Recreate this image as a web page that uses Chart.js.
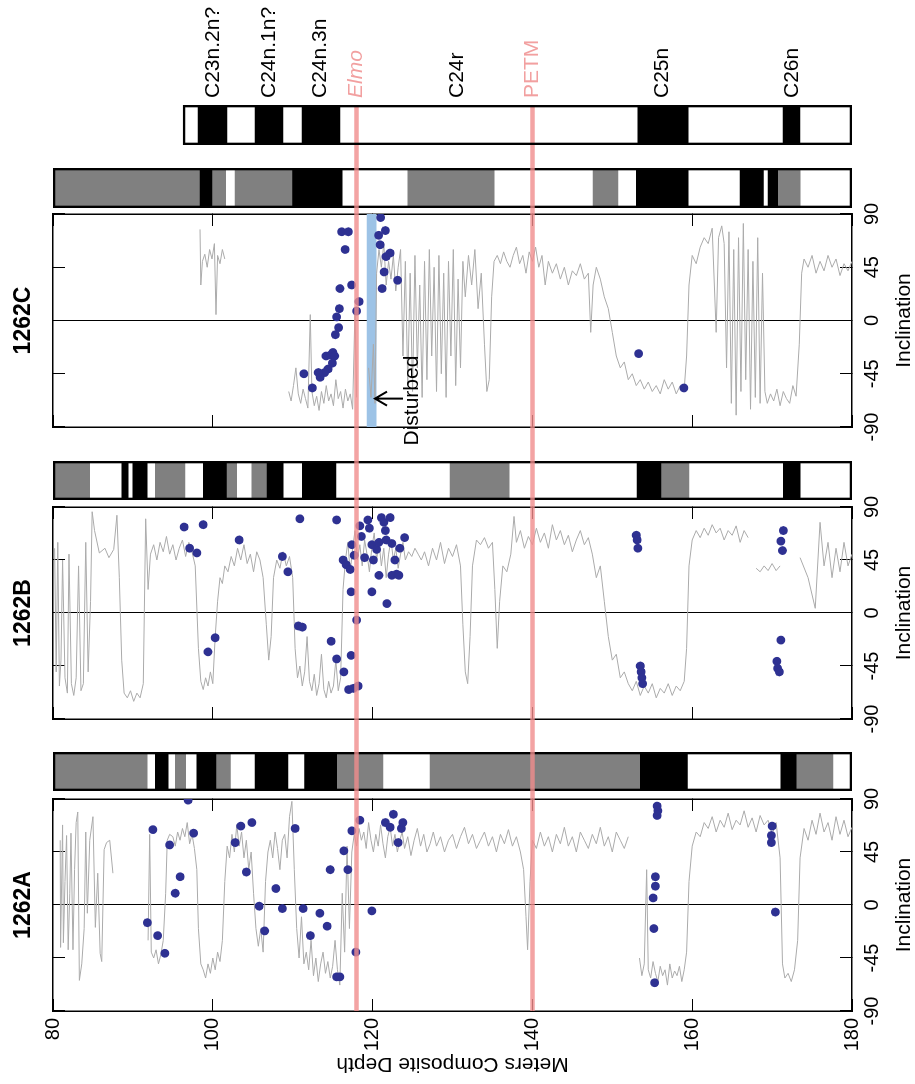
<!DOCTYPE html>
<html>
<head>
<meta charset="utf-8">
<script src="https://cdn.jsdelivr.net/npm/chart.js@4.4.1/dist/chart.umd.min.js"></script>
<style>
  html, body { margin: 0; padding: 0; background: #fff; overflow: hidden; }
  /* the figure is laid out lying on its side, then turned a quarter turn */
  #stage { position: absolute; left: 0; top: 0; width: 1084px; height: 915px;
           transform-origin: 0 0; transform: translate(0, 1084px) rotate(-90deg); }
  #stage canvas { position: absolute; left: 0; top: 0; }
</style>
</head>
<body>
<div id="stage"></div>
<script>
// ---- data (depth in mcd, inclination in degrees) ----
const depthTicks = [80, 100, 120, 140, 160, 180];
const incTicks = [-90, -45, 0, 45, 90];

const markerNames = ['Elmo', 'PETM'];
const markerDepths = [118.0, 140.0];

const chronNames = ['C23n.2n?', 'C24n.1n?', 'C24n.3n', 'C24r', 'C25n', 'C26n'];
const chronDepths = [100.0, 107.1, 113.4, 130.6, 156.3, 172.5];

const compositeRange = [96.27, 180];
const compositeBlack = [[98.15, 101.78], [105.28, 108.79], [111.16, 115.92], [153.2, 159.48], [171.37, 173.49]];

const polBlackA = [[92.8, 94.4], [98.0, 100.4], [105.3, 109.4], [111.5, 115.5], [153.5, 159.4], [171.1, 173.0]];
const polGreyA = [[80, 91.8], [95.3, 96.6], [100.4, 102.2], [115.5, 121.3], [127.2, 153.5], [173.0, 177.6]];
const polBlackB = [[88.6, 89.4], [90.0, 91.8], [98.8, 101.7], [106.8, 108.8], [111.2, 115.4], [153.1, 156.1], [171.4, 173.5]];
const polGreyB = [[80, 84.6], [92.8, 96.5], [101.7, 103.0], [104.9, 106.8], [129.7, 137.1], [156.1, 159.6]];
const polBlackC = [[98.4, 99.9], [110.0, 116.2], [153.0, 159.5], [166.0, 168.9], [169.5, 170.7]];
const polGreyC = [[80, 98.4], [99.9, 101.6], [102.8, 110.0], [124.4, 135.2], [147.6, 150.7], [170.7, 173.5]];

const disturbedRange = [119.26, 120.5];
const disturbedArrow = { inc: -66, head: 120.3, tail: 123.8, labelDepth: 123.6 };

// continuous inclination records, one array per unbroken run: [depth, inclination]
const greyA = [
  [[80.9,55],[80.95,-36],[81.2,68],[81.3,-32],[81.5,20],[81.7,59],[81.9,-38],[82.1,10],[82.25,61],[82.5,-38],[82.7,30],[82.9,70],[83.1,79],[83.3,-64],[83.6,-50],[83.9,-20],[84.1,62],[84.3,-7],[84.6,55],[85.0,75],[85.3,-19],[85.6,27],[85.9,-41],[86.1,-48],[86.4,47],[86.7,53],[87.1,55],[87.5,27]],
  [[91.9,-30],[92.1,60],[92.3,-40],[92.6,-45],[92.9,-38],[93.2,-50],[93.5,-42],[93.8,-30],[94.1,10],[94.3,55],[94.6,60],[95.0,58],[95.3,50],[95.6,62],[95.9,55],[96.2,65],[96.5,58],[96.8,70],[97.1,52],[97.4,60],[97.7,48],[98.0,30],[98.2,-20],[98.5,-50],[98.8,-55],[99.1,-62],[99.4,-50],[99.7,-58],[100.0,-45],[100.3,-55],[100.6,-40],[100.9,-48],[101.2,-30],[101.5,20],[101.8,50],[102.1,40],[102.4,60],[102.7,45],[103.0,68],[103.3,50],[103.6,62],[103.9,40],[104.2,55],[104.5,30],[104.8,45],[105.1,10],[105.4,-20],[105.7,-35],[106.0,-20],[106.3,-40],[106.6,20],[106.9,45],[107.2,55],[107.5,40],[107.8,62],[108.1,48],[108.4,30],[108.7,55],[109.0,60],[109.3,40],[109.6,75],[109.9,88],[110.2,30],[110.5,-20],[110.8,-45],[111.1,-10],[111.4,-50],[111.7,-40],[112.0,-55],[112.3,-30],[112.6,-60],[112.9,-45],[113.2,-65],[113.5,-50],[113.8,-40],[114.1,-58],[114.4,-48],[114.7,-62],[115.0,-52],[115.3,-30],[115.6,-55],[115.9,-68],[116.2,10],[116.5,-40],[116.8,50],[117.1,-20],[117.4,45],[117.7,60],[118.0,50],[118.3,65],[118.6,55],[118.9,62],[119.2,48],[119.5,70],[119.8,55],[120.1,45],[120.4,60],[120.7,50],[121.0,68],[121.3,52],[121.6,40],[121.9,58],[122.2,66],[122.5,50],[122.8,60],[123.1,45],[123.4,55],[123.7,62],[124.0,48],[124.4,58],[124.8,42],[125.2,55],[125.6,65],[126.0,50],[126.4,60],[126.8,45],[127.2,52],[127.6,62],[128.0,50],[128.5,58],[129.0,45],[129.5,55],[130.0,60],[130.5,48],[131.0,58],[131.5,66],[132.0,52],[132.5,60],[133.0,48],[133.5,55],[134.0,62],[134.5,50],[135.0,58],[135.5,45],[136.0,60],[136.5,52],[137.0,64],[137.5,50],[138.0,58],[138.5,45],[138.9,30],[139.2,-10],[139.4,-38],[139.7,20],[140.0,55],[140.5,48],[141.0,62],[141.5,50],[142.0,58],[142.5,45],[143.0,60],[143.5,52],[144.0,66],[144.5,50],[145.0,58],[145.5,45],[146.0,62],[146.5,55],[147.0,48],[147.5,60],[148.0,52],[148.5,66],[149.0,50],[149.5,58],[150.0,45],[150.5,62],[151.0,55],[151.5,48],[152.0,58]],
  [[153.4,-45],[153.7,-60],[154.0,-50],[154.3,30],[154.5,-55],[154.8,-62],[155.1,-48],[155.4,-58],[155.7,-65],[156.0,-52],[156.3,-60],[156.6,-55],[156.9,-68],[157.2,-50],[157.5,-62],[157.8,-56],[158.1,-60],[158.4,-52],[158.7,-65],[159.0,-55],[159.3,-40],[159.6,20],[160.0,50],[160.5,62],[161.0,58],[161.5,70],[162.0,65],[162.5,75],[163.0,62],[163.5,72],[164.0,66],[164.5,78],[165.0,64],[165.5,72],[166.0,68],[166.5,80],[167.0,66],[167.5,74],[168.0,62],[168.5,76],[169.0,68],[169.5,72],[170.0,60],[170.5,70],[171.0,40],[171.3,-50],[171.6,-62],[172.0,-58],[172.4,-65],[172.8,-55],[173.2,-30],[173.5,40],[174.0,65],[174.5,55],[175.0,72],[175.5,60],[176.0,78],[176.5,62],[177.0,70],[177.5,55],[178.0,75],[178.5,60],[179.0,72],[179.5,58],[180.0,66]]
];
const greyB = [
  [[80.2,55],[80.4,-50],[80.6,60],[80.8,-62],[81.0,-40],[81.2,45],[81.5,-55],[81.8,-68],[82.0,50],[82.3,-60],[82.6,-70],[82.9,-55],[83.2,40],[83.5,-66],[83.8,-60],[84.1,60],[84.4,-50],[84.7,10],[84.9,86],[85.2,70],[85.8,51],[86.5,55],[87.0,47],[87.6,54],[88.0,83],[88.3,30],[88.6,-40],[88.9,-68],[89.3,-72],[89.7,-66],[90.1,-75],[90.5,-68],[90.9,-72],[91.3,-60],[91.6,80],[91.9,20],[92.2,50],[92.6,58],[93.0,45],[93.4,60],[93.8,52],[94.2,65],[94.6,50],[95.0,58],[95.4,45],[95.8,55],[96.2,62],[96.6,48],[97.0,60],[97.4,52],[97.8,40],[98.2,-30],[98.5,-58],[98.8,-65],[99.1,-55],[99.4,-62],[99.7,-50],[100.0,-60],[100.3,-20],[100.6,10],[100.9,30],[101.2,25],[101.5,40],[101.9,35],[102.3,48],[102.7,40],[103.1,55],[103.5,45],[103.9,58],[104.3,42],[104.7,50],[105.1,35],[105.5,52],[105.9,45],[106.3,30],[106.7,-10],[107.0,-40],[107.3,-20],[107.6,30],[108.0,45],[108.4,38],[108.8,52],[109.2,40],[109.6,48],[110.0,30],[110.3,-30],[110.6,-55],[110.9,-45],[111.2,-62],[111.5,-50],[111.8,-20],[112.1,-58],[112.4,-66],[112.7,-52],[113.0,-70],[113.3,-60],[113.6,-35],[113.9,-65],[114.2,-72],[114.5,-58],[114.8,-68],[115.1,-62],[115.4,-40],[115.7,-66],[116.0,-55],[116.3,20],[116.6,45],[116.9,60],[117.2,35],[117.5,55],[117.8,70],[118.1,45],[118.4,58],[118.7,40],[119.0,62],[119.3,50],[119.6,35],[119.9,55],[120.2,68],[120.5,45],[120.8,60],[121.1,40],[121.4,55],[121.7,30],[122.0,50],[122.3,62],[122.6,45],[122.9,55],[123.2,38],[123.5,50],[123.8,60],[124.1,45],[124.5,52],[124.9,48],[125.3,55],[125.7,50],[126.1,45],[126.5,52],[127.0,40],[127.5,55],[128.0,45],[128.5,60],[129.0,42],[129.5,55],[130.0,48],[130.5,58],[131.0,40],[131.3,-10],[131.6,-50],[131.9,-60],[132.2,-20],[132.5,40],[133.0,62],[133.5,58],[134.0,64],[134.5,55],[135.0,60],[135.3,20],[135.6,-30],[135.9,10],[136.3,40],[136.8,35],[137.3,50],[137.7,82],[138.0,60],[138.5,70],[139.0,55],[139.5,65],[140.0,58],[140.5,72],[141.0,60],[141.5,68],[142.0,55],[142.5,75],[143.0,62],[143.5,70],[144.0,58],[144.5,66],[145.0,52],[145.5,62],[146.0,70],[146.5,58],[147.0,64],[147.5,50],[148.0,30],[148.5,40],[149.0,10],[149.5,-20],[150.0,-40],[150.5,-35],[151.0,-55],[151.5,-50],[152.0,-60],[152.5,-66],[153.0,-58],[153.5,-70],[154.0,-62],[154.5,-68],[155.0,-60],[155.5,-72],[156.0,-64],[156.5,-68],[157.0,-60],[157.5,-70],[158.0,-62],[158.5,-66],[159.0,-58],[159.3,-30],[159.6,40],[160.0,62],[160.5,70],[161.0,64],[161.5,72],[162.0,66],[162.5,75],[163.0,68],[163.5,72],[164.0,62],[164.5,70],[165.0,66],[165.5,74],[166.0,60],[166.5,70],[167.0,64]],
  [[168.0,38],[168.5,35],[169.0,40],[169.5,36],[170.0,42],[170.5,36],[171.0,40]],
  [[173.5,47],[174.5,30],[175.4,4],[176.0,77],[176.5,40],[177.0,60],[177.5,30],[178.0,55],[178.5,35],[179.0,60],[179.5,40],[180.0,50]]
];
const greyC = [
  [[98.4,77],[98.5,30],[98.7,50],[99.0,56],[99.3,45],[99.6,60],[99.9,52],[100.2,65],[100.4,5],[100.6,55],[100.9,48],[101.2,60],[101.5,52]],
  [[109.5,-60],[109.8,-68],[110.1,-55],[110.4,-40],[110.7,-62],[111.0,-70],[111.3,-58],[111.6,-66],[111.9,-74],[112.2,5],[112.4,-60],[112.7,-72],[113.0,-64],[113.3,-76],[113.6,-60],[113.9,-70],[114.2,-55],[114.5,-68],[114.8,-62],[115.1,-72],[115.4,-50],[115.7,-66],[116.0,-60],[116.3,-74],[116.6,-58],[116.9,-68],[117.2,-62],[117.5,-75],[117.8,10],[118.0,-65]],
  [[119.5,-40],[119.8,-65],[120.1,-20],[120.3,-70],[120.5,40],[120.8,60],[121.1,45],[121.4,65],[121.7,30],[122.0,50],[122.3,35],[122.6,55],[122.9,25],[123.2,45],[123.5,60],[123.8,-30],[124.1,50],[124.4,-55],[124.7,40],[125.0,-60],[125.3,55],[125.6,-40],[125.9,30],[126.2,-65],[126.5,50],[126.8,-50],[127.1,60],[127.4,-30],[127.7,45],[128.0,-60],[128.3,55],[128.6,-45],[128.9,40],[129.2,-65],[129.5,50],[129.8,-30],[130.1,60],[130.4,-55],[130.7,35],[131.0,-40],[131.3,50],[131.6,20],[132.0,55],[132.4,30],[132.8,60],[133.2,10],[133.6,40],[134.0,-20],[134.3,-60],[134.6,-50],[134.9,20],[135.2,50],[135.6,55],[136.0,48],[136.4,58],[136.8,50],[137.2,45],[137.6,55],[138.0,62],[138.4,48],[138.8,55],[139.2,40],[139.6,58],[140.0,50],[140.4,62],[140.8,45],[141.2,55],[141.6,30],[142.0,50],[142.5,40],[143.0,48],[143.5,35],[144.0,45],[144.5,30],[145.0,42],[145.5,38],[146.0,48],[146.5,35],[147.0,40],[147.3,-10],[147.6,30],[148.0,45],[148.5,35],[149.0,20],[149.5,10],[150.0,-10],[150.5,-30],[151.0,-40],[151.5,-35],[152.0,-50],[152.5,-45],[153.0,-55],[153.5,-50],[154.0,-58],[154.5,-52],[155.0,-60],[155.5,-55],[156.0,-62],[156.5,-50],[157.0,-58],[157.5,-52],[158.0,-62],[158.5,-55],[159.0,-58],[159.3,-30],[159.6,30],[160.0,55],[160.5,48],[161.0,62],[161.5,70],[162.0,65],[162.5,78],[163.0,-10],[163.3,70],[163.7,80],[164.0,65],[164.3,-40],[164.6,75],[164.9,-70],[165.2,60],[165.5,-80],[165.8,70],[166.1,-60],[166.4,82],[166.7,-50],[167.0,60],[167.3,-75],[167.6,50],[167.9,-65],[168.2,70],[168.5,-70],[168.8,40],[169.1,-60],[169.4,-70],[169.8,-62],[170.2,-68],[170.6,-58],[171.0,-72],[171.4,-60],[171.8,-66],[172.2,-70],[172.6,-55],[173.0,-64],[173.4,-20],[173.7,40],[174.0,52],[174.5,45],[175.0,55],[175.5,40],[176.0,50],[176.5,42],[177.0,55],[177.5,45],[178.0,52],[178.5,38],[179.0,48],[179.5,42],[180.0,50]]
];

// discrete samples: [depth, inclination]
const dotsA = [[91.8,-15],[92.5,64],[93.1,-26],[94.0,-41],[94.6,51],[95.3,10],[95.9,24],[96.9,89],[97.6,61],[102.8,53],[103.5,67],[104.2,28],[104.9,70],[105.8,-1],[106.5,-22],[107.9,14],[108.7,-3],[110.3,65],[111.3,-3],[112.2,-26],[113.4,-7],[114.3,-18],[114.7,30],[115.5,-61],[115.9,-61],[116.4,46],[116.9,30],[117.4,63],[117.9,-40],[118.4,72],[119.9,-5],[121.6,70],[122.2,66],[122.6,77],[123.2,53],[123.6,65],[123.8,70],
  [155.3,-66],[155.2,-20],[155.1,6],[155.4,16],[155.4,24],[155.6,76],[155.7,80],[155.6,84],[170.0,67],[169.9,59],[169.9,53],[170.4,-6]];
const dotsB = [[96.4,73],[97.1,55],[98.0,51],[98.8,75],[99.4,-33],[100.3,-21],[103.3,62],[108.7,48],[109.4,35],[110.7,-11],[111.2,-12],[110.9,80],[114.8,-24],[115.5,-39],[116.4,-50],[117.0,-65],[117.3,-36],[117.6,-64],[118.2,-62],[115.5,79],
  [116.3,45],[116.7,41],[117.2,37],[117.4,58],[117.7,49],[118.0,-6],[118.4,74],[118.6,65],[119.0,47],[119.4,79],[119.6,72],[119.9,58],[120.1,45],[120.5,54],[120.8,60],[121.1,81],[121.4,77],[121.6,70],[121.7,62],[122.2,81],[122.4,59],[122.8,45],[123.0,33],[123.4,55],[124.0,64],[117.3,18],[119.9,18],[120.8,32],[121.8,8],[122.4,32],[123.3,32],
  [153.0,66],[153.1,62],[153.2,55],[153.5,-45],[153.6,-50],[153.7,-55],[153.8,-60],[171.4,70],[171.1,61],[171.3,53],[171.1,-23],[170.6,-41],[170.7,-47],[170.9,-50]];
const dotsC = [[121.0,87],[120.76,72],[121.59,76],[120.93,64],[122.18,57],[121.68,54],[121.43,41],[121.18,27],[123.14,34],[118.3,16],[118.0,8],[117.38,30],[115.92,27],[115.83,10],[115.51,3],[115.76,-6],[115.33,-12],[116.13,75],[116.96,75],[116.55,60],[114.17,-30],[114.79,-29],[115.04,-27],[115.26,-30],[114.96,-36],[114.42,-41],[114.0,-44],[113.42,-48],[113.2,-44],[111.41,-45],[112.45,-57],
  [153.3,-28],[158.97,-57]];

// ---- layout (figure drawn lying down: depth runs down, panels side by side) ----
const W = 1084, H = 915;
const plotTop = 53, plotBottom = 852;
const FONT = '"Liberation Sans", Arial, Helvetica, sans-serif';
Chart.defaults.font.family = FONT;
Chart.defaults.color = '#000';

function addCanvas() {
  const c = document.createElement('canvas');
  c.width = W; c.height = H;
  document.getElementById('stage').appendChild(c);
  return c;
}
const base = { responsive: false, animation: false, events: [],
  plugins: { legend: { display: false }, tooltip: { enabled: false } } };
const setTicks = vals => s => { s.ticks = vals.map(v => ({ value: v })); };

function panel(name, left, right, grey, dots, showDepth, extraSets, extraPlugins) {
  const leftW = showDepth ? 73 : 10;
  const datasets = (extraSets || []).slice();
  grey.forEach(seg => datasets.push({
    data: seg.map(([d, i]) => ({ x: i, y: d })), showLine: true,
    borderColor: '#ababab', borderWidth: 1, pointRadius: 0, order: 2
  }));
  datasets.push({
    data: dots.map(([d, i]) => ({ x: i, y: d })), pointRadius: 4.4,
    backgroundColor: '#2e3192', borderWidth: 0, order: 1
  });
  const border = { display: true, color: '#000', width: 1.5 };
  const incAxis = (pos, extra) => Object.assign({
    type: 'linear', position: pos, min: -90, max: 90, afterBuildTicks: setTicks(incTicks), border
  }, extra);
  const depAxis = (pos, extra) => Object.assign({
    type: 'linear', position: pos, min: 80, max: 180, reverse: true, afterBuildTicks: setTicks(depthTicks), border
  }, extra);
  new Chart(addCanvas(), {
    type: 'scatter',
    data: { datasets },
    options: Object.assign({}, base, {
      layout: { padding: { left: left - leftW, right: W - right - 10, top: 0, bottom: 0 } },
      scales: {
        x: incAxis('bottom', {
          ticks: { font: { size: 20 }, padding: 20, maxRotation: 0, autoSkip: false },
          grid: { color: c => (c.tick && c.tick.value === 0 ? '#000' : 'rgba(0,0,0,0)'), tickColor: '#000', tickLength: -12, lineWidth: 1 },
          title: { display: true, text: 'Inclination', font: { size: 21, lineHeight: 1 }, padding: 0 },
          afterFit: s => { s.height = H - plotBottom; }
        }),
        x2: incAxis('top', {
          ticks: { display: false },
          grid: { drawOnChartArea: false, tickColor: '#000', tickLength: -12 },
          title: { display: true, text: name, font: { size: 23, weight: 'bold', lineHeight: 1 }, padding: { top: 12 } },
          afterFit: s => { s.height = plotTop; }
        }),
        y: depAxis('left', {
          ticks: { display: showDepth, font: { size: 20 }, padding: 19, autoSkip: false },
          grid: { drawOnChartArea: false, tickColor: '#000', tickLength: -12 },
          title: { display: showDepth, text: 'Meters Composite Depth', font: { size: 21, lineHeight: 1 }, padding: { top: 10 } },
          afterFit: s => { s.width = leftW; }
        }),
        y2: depAxis('right', {
          ticks: { display: false },
          grid: { drawOnChartArea: false, tickColor: '#000', tickLength: -12 },
          afterFit: s => { s.width = 10; }
        })
      }
    }),
    plugins: extraPlugins || []
  });
}

function strip(left, right, black, grey, range, labelAxis) {
  const bar = { grouped: false, barPercentage: 1, categoryPercentage: 1, borderWidth: 0 };
  const datasets = [Object.assign({}, bar, {
    data: [range], backgroundColor: 'rgba(0,0,0,0)', borderColor: '#000', borderWidth: 2, borderSkipped: false, order: -1
  })];
  black.forEach(iv => datasets.push(Object.assign({}, bar, { data: [iv], backgroundColor: '#000' })));
  grey.forEach(iv => datasets.push(Object.assign({}, bar, { data: [iv], backgroundColor: '#808080' })));
  const y = labelAxis || { display: false };
  new Chart(addCanvas(), {
    type: 'bar',
    data: { labels: [''], datasets },
    options: Object.assign({}, base, {
      layout: { padding: { left, right: labelAxis ? 0 : W - right, top: plotTop, bottom: H - plotBottom } },
      scales: {
        x: { display: false },
        y: Object.assign({ min: 80, max: 180, reverse: true }, y)
      }
    })
  });
}

// panels
panel('1262A', 73, 285, greyA, dotsA, true);
strip(293, 332, polBlackA, polGreyA, [80, 180]);
panel('1262B', 365, 577, greyB, dotsB, false);
strip(584, 623, polBlackB, polGreyB, [80, 180]);

const disturbedPlugin = {
  id: 'disturbed',
  afterDatasetsDraw(chart) {
    const { ctx, scales: { x, y } } = chart;
    const px = x.getPixelForValue(disturbedArrow.inc);
    const yh = y.getPixelForValue(disturbedArrow.head);
    const yt = y.getPixelForValue(disturbedArrow.tail);
    ctx.save();
    ctx.strokeStyle = '#000'; ctx.lineWidth = 2;
    ctx.beginPath();
    ctx.moveTo(px, yt); ctx.lineTo(px, yh);
    ctx.moveTo(px - 7, yh + 12); ctx.lineTo(px, yh); ctx.lineTo(px + 7, yh + 12);
    ctx.stroke();
    ctx.fillStyle = '#000'; ctx.font = '21px ' + FONT;
    ctx.textAlign = 'center'; ctx.textBaseline = 'top';
    ctx.fillText('Disturbed', px - 2, y.getPixelForValue(disturbedArrow.labelDepth));
    ctx.restore();
  }
};
const band = [
  { data: [{ x: -90, y: disturbedRange[0] }, { x: 90, y: disturbedRange[0] }], showLine: true, borderWidth: 0, pointRadius: 0, fill: '+1', backgroundColor: '#9dc3e6', order: 3 },
  { data: [{ x: -90, y: disturbedRange[1] }, { x: 90, y: disturbedRange[1] }], showLine: true, borderWidth: 0, pointRadius: 0, order: 3 }
];
panel('1262C', 657, 870, greyC, dotsC, false, band, [disturbedPlugin]);
strip(876, 916, polBlackC, polGreyC, [80, 180]);

// event lines across all columns
new Chart(addCanvas(), {
  type: 'scatter',
  data: { datasets: markerDepths.map(d => ({
    data: [{ x: 0, y: d }, { x: 1, y: d }], showLine: true,
    borderColor: 'rgba(240,140,140,0.8)', borderWidth: 4.5, pointRadius: 0
  })) },
  options: Object.assign({}, base, {
    layout: { padding: { left: 73, right: W - 979, top: plotTop, bottom: H - plotBottom } },
    scales: {
      x: { display: false, min: 0, max: 1 },
      y: { display: false, min: 80, max: 180, reverse: true }
    }
  })
});

// composite polarity column with chron and event labels
const labelDepths = chronDepths.concat(markerDepths);
const labelNames = chronNames.concat(markerNames);
const isMarker = c => !!(c.tick && markerDepths.includes(c.tick.value));
strip(939, 979, compositeBlack, [], compositeRange, {
  display: true, position: 'right',
  afterBuildTicks: setTicks(labelDepths),
  ticks: {
    autoSkip: false, padding: 7,
    callback: v => labelNames[labelDepths.indexOf(v)],
    color: c => (isMarker(c) ? '#f2a0a0' : '#000'),
    font: c => ({ size: 21, style: (c.tick && c.tick.value === markerDepths[0]) ? 'italic' : 'normal' })
  },
  grid: { display: false, drawTicks: false },
  border: { display: false },
  afterFit: s => { s.width = W - 979; }
});
</script>
</body>
</html>
